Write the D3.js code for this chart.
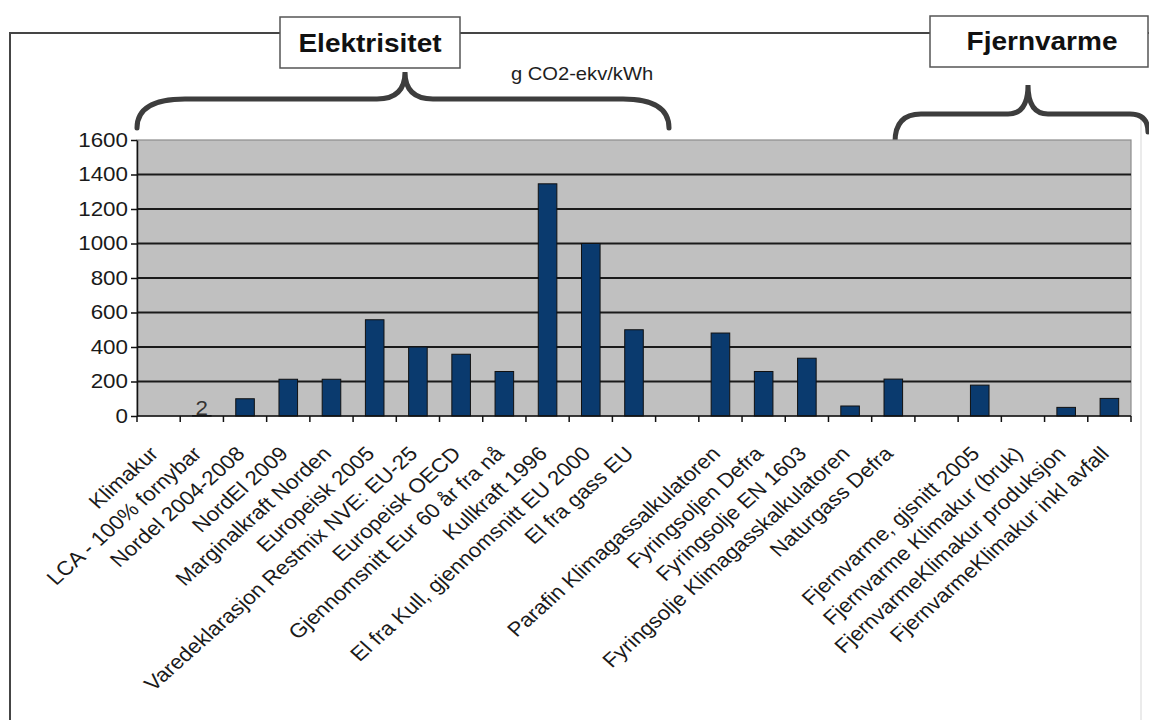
<!DOCTYPE html>
<html>
<head>
<meta charset="utf-8">
<script src="https://cdn.jsdelivr.net/npm/d3@7"></script>
<style>
  body { margin: 0; background: #fff; }
  svg { display: block; }
  text { font-family: "Liberation Sans", Arial, sans-serif; }
</style>
</head>
<body>
<svg id="chart" width="1149" height="720"></svg>
<script>
// Emission factors, g CO2-ekv/kWh
const categories = [
  "Klimakur",
  "LCA - 100% fornybar",
  "Nordel 2004-2008",
  "NordEl 2009",
  "Marginalkraft Norden",
  "Europeisk 2005",
  "Varedeklarasjon Restmix NVE: EU-25",
  "Europeisk OECD",
  "Gjennomsnitt Eur 60 år fra nå",
  "Kullkraft 1996",
  "El fra Kull, gjennomsnitt EU 2000",
  "El fra gass EU",
  "",
  "Parafin Klimagassalkulatoren",
  "Fyringsoljen Defra",
  "Fyringsolje EN 1603",
  "Fyringsolje Klimagasskalkulatoren",
  "Naturgass Defra",
  "",
  "Fjernvarme, gjsnitt 2005",
  "Fjernvarme Klimakur (bruk)",
  "FjernvarmeKlimakur produksjon",
  "FjernvarmeKlimakur inkl avfall"
];
const values = [
  null, 2, 100, 213, 213, 558, 400, 358, 258, 1346, 1000, 500,
  null, 481, 258, 335, 58, 214, null, 179, null, 50, 102
];
const labelledBars = [1];            // bars that carry a value label
const yTicks = d3.range(0, 1601, 200);
const unitLabel = "g CO2-ekv/kWh";
const groupNames = ["Elektrisitet", "Fjernvarme"];

const SX = 1.12;                     // horizontal text stretch
const svg = d3.select("#chart");
const plot = { left: 137, right: 1131, top: 140, bottom: 416 };

const x = d3.scaleBand()
  .domain(d3.range(categories.length))
  .range([plot.left, plot.right])
  .paddingInner(0.57)
  .paddingOuter(0.285);
const y = d3.scaleLinear().domain([0, 1600]).range([plot.bottom, plot.top]);

svg.append("rect").attr("width", 1149).attr("height", 720).attr("fill", "#fff");

// outer frame with the two group boxes on its top edge
const frameColor = "#454545";
svg.append("path")
  .attr("d", "M10,720 L10,33 L1149,33")
  .attr("fill", "none").attr("stroke", frameColor).attr("stroke-width", 2);
svg.append("line")
  .attr("x1", 1141).attr("x2", 1141).attr("y1", 118).attr("y2", 720)
  .attr("stroke", "#e4e4e4").attr("stroke-width", 1.5);

const boxes = [
  { x0: 280, x1: 460, y0: 17, y1: 68, tx: 370, ty: 52 },
  { x0: 930, x1: 1148, y0: 16, y1: 67, tx: 1042, ty: 50 }
];
boxes.forEach((b, i) => {
  svg.append("rect")
    .attr("x", b.x0).attr("y", b.y0)
    .attr("width", b.x1 - b.x0).attr("height", b.y1 - b.y0)
    .attr("fill", "#fff").attr("stroke", "#555").attr("stroke-width", 1.5);
  svg.append("text")
    .attr("transform", `translate(${b.tx},${b.ty}) scale(${SX},1)`)
    .attr("text-anchor", "middle")
    .attr("font-size", 25).attr("font-weight", "bold").attr("fill", "#111")
    .text(groupNames[i]);
});

// curly braces grouping the categories
function brace(o) {
  const p = d3.path();
  p.moveTo(o.x1, o.yL);
  p.quadraticCurveTo(o.x1, o.yMid, o.x1 + o.rL, o.yMid);
  p.lineTo(o.tip - o.rT, o.yMid);
  p.quadraticCurveTo(o.tip, o.yMid, o.tip, o.tipY);
  p.quadraticCurveTo(o.tip, o.yMid, o.tip + o.rT, o.yMid);
  p.lineTo(o.x2 - o.rR, o.yMid);
  p.quadraticCurveTo(o.x2, o.yMid, o.x2, o.yR);
  return p.toString();
}
[
  { x1: 137, x2: 669, tip: 405, yL: 128, yR: 128, yMid: 99, tipY: 72, rL: 48, rR: 46, rT: 28 },
  { x1: 895, x2: 1148, tip: 1028, yL: 142, yR: 132, yMid: 114, tipY: 85, rL: 26, rR: 18, rT: 20 }
].forEach(o => {
  svg.append("path").attr("d", brace(o))
    .attr("fill", "none").attr("stroke", "#3d3d3d")
    .attr("stroke-width", 5).attr("stroke-linecap", "round");
});

svg.append("text")
  .attr("transform", `translate(582,80) scale(${SX},1)`)
  .attr("text-anchor", "middle").attr("font-size", 18).attr("fill", "#1e1e1e")
  .text(unitLabel);

// plot area
svg.append("rect")
  .attr("x", plot.left).attr("y", plot.top)
  .attr("width", plot.right - plot.left).attr("height", plot.bottom - plot.top)
  .attr("fill", "#c0c0c0").attr("stroke", "#8c8c8c").attr("stroke-width", 1.2);

svg.append("g").selectAll("line")
  .data(yTicks.filter(v => v > 0 && v < 1600))
  .join("line")
  .attr("x1", plot.left).attr("x2", plot.right)
  .attr("y1", d => y(d)).attr("y2", d => y(d))
  .attr("stroke", "#1a1a1a").attr("stroke-width", 2);

// bars
const barData = values.map((v, i) => ({ i, v })).filter(d => d.v != null);
svg.append("g").selectAll("rect")
  .data(barData)
  .join("rect")
  .attr("x", d => x(d.i))
  .attr("width", x.bandwidth())
  .attr("y", d => y(d.v))
  .attr("height", d => y(0) - y(d.v))
  .attr("fill", "#0a3a6e").attr("stroke", "#111").attr("stroke-width", 1);

svg.append("g").selectAll("text")
  .data(labelledBars)
  .join("text")
  .attr("transform", i => `translate(${x(i) + x.bandwidth() / 2},${y(values[i]) - 1}) scale(${SX},1)`)
  .attr("text-anchor", "middle").attr("font-size", 20).attr("fill", "#333")
  .text(i => values[i]);

// y axis
const yAxis = svg.append("g")
  .attr("transform", `translate(${plot.left},0)`)
  .call(d3.axisLeft(y).tickValues(yTicks).tickFormat(d3.format("d"))
    .tickSize(6).tickSizeOuter(0).tickPadding(3));
yAxis.select(".domain").attr("stroke", "#111").attr("stroke-width", 1.5);
yAxis.selectAll(".tick line").attr("stroke", "#111").attr("stroke-width", 1.5);
yAxis.selectAll(".tick text")
  .attr("x", 0)
  .attr("transform", `translate(-9,0) scale(${SX},1)`)
  .attr("font-size", 20).attr("fill", "#1a1a1a")
  .attr("font-family", "Liberation Sans, Arial, sans-serif");

// x axis with ticks on the category boundaries
const xAxis = svg.append("g");
xAxis.append("line")
  .attr("x1", plot.left).attr("x2", plot.right)
  .attr("y1", y(0)).attr("y2", y(0))
  .attr("stroke", "#111").attr("stroke-width", 1.5);
xAxis.selectAll("line.tk")
  .data(d3.range(categories.length + 1))
  .join("line").attr("class", "tk")
  .attr("x1", k => plot.left + k * x.step()).attr("x2", k => plot.left + k * x.step())
  .attr("y1", y(0)).attr("y2", y(0) + 6)
  .attr("stroke", "#111").attr("stroke-width", 1.5);

xAxis.selectAll("text")
  .data(categories.map((name, i) => ({ name, i })).filter(d => d.name))
  .join("text")
  .attr("transform", d => `translate(${x(d.i) + x.bandwidth() / 2 + 1},455) scale(${SX},1) rotate(-45)`)
  .attr("text-anchor", "end").attr("font-size", 20).attr("fill", "#1a1a1a")
  .text(d => d.name);
</script>
</body>
</html>
